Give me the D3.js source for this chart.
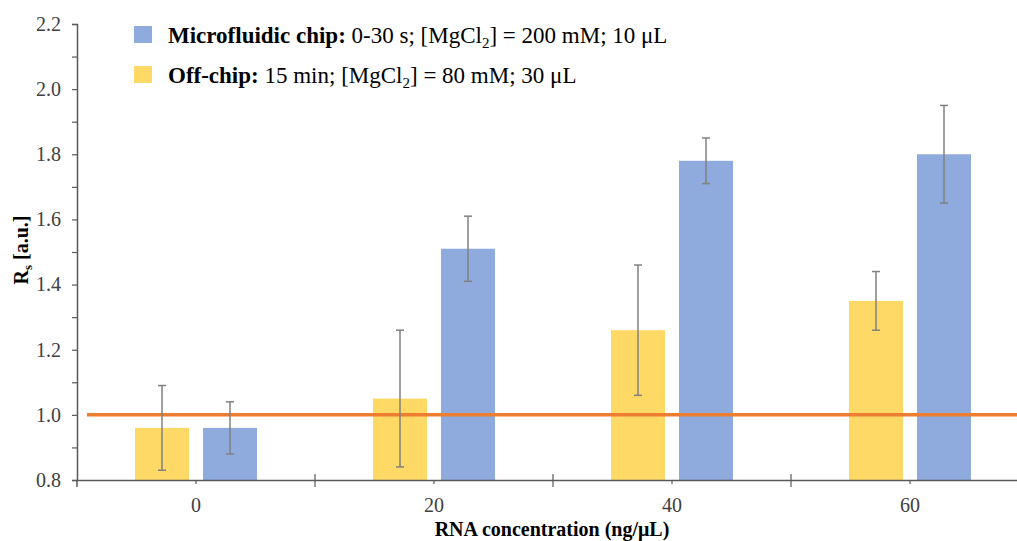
<!DOCTYPE html>
<html>
<head>
<meta charset="utf-8">
<script src="https://cdn.jsdelivr.net/npm/d3@7"></script>
<style>
html,body{margin:0;padding:0;background:#fff;}
svg text{font-family:"Liberation Serif","Times New Roman","DejaVu Serif",serif !important;}
</style>
</head>
<body>
<svg id="chart" width="1017" height="541"></svg>
<script>
const categories = ["0", "20", "40", "60"];
const seriesNames = ["Off-chip", "Microfluidic chip"];
const offChip = [0.96, 1.05, 1.26, 1.35];
const offChipErr = [0.13, 0.21, 0.20, 0.09];
const chip = [0.96, 1.51, 1.78, 1.80];
const chipErr = [0.08, 0.10, 0.07, 0.15];
const yTicks = [0.8, 1.0, 1.2, 1.4, 1.6, 1.8, 2.0, 2.2];
const refValue = 1.0;

const colors = {"Off-chip": "#FFD966", "Microfluidic chip": "#8FAADC"};

(function () {
const FONT = "'Liberation Serif', 'Times New Roman', 'DejaVu Serif', serif";
const svg = d3.select("#chart");
const mLeft = 77, mTop = 24, mBottom = 480, catW = 238;
const mRight = mLeft + catW * categories.length;

const x = d3.scaleBand().domain(categories).range([mLeft, mRight]).paddingInner(0).paddingOuter(0);
const xs = d3.scaleBand().domain(seriesNames).range([0, catW]).paddingInner(0.206).paddingOuter(0.853);
const y = d3.scaleLinear().domain([0.8, 2.2]).range([mBottom, mTop]);

const series = [
  {name: "Off-chip", vals: offChip, err: offChipErr},
  {name: "Microfluidic chip", vals: chip, err: chipErr}
];

// bars
series.forEach(s => {
  svg.append("g").selectAll("rect").data(categories).join("rect")
    .attr("x", (c) => x(c) + xs(s.name))
    .attr("width", xs.bandwidth())
    .attr("y", (c, i) => y(s.vals[i]))
    .attr("height", (c, i) => y(0.8) - y(s.vals[i]))
    .attr("fill", colors[s.name]);
});

// reference line
svg.append("line")
  .attr("x1", 87).attr("x2", 1017)
  .attr("y1", y(refValue)).attr("y2", y(refValue))
  .attr("stroke", "#ED7D31").attr("stroke-width", 3.5);

// error bars
series.forEach(s => {
  const g = svg.append("g").attr("stroke", "#808080").attr("stroke-width", 1.5);
  categories.forEach((c, i) => {
    const cx = x(c) + xs(s.name) + xs.bandwidth() / 2;
    const hi = y(s.vals[i] + s.err[i]), lo = y(s.vals[i] - s.err[i]);
    g.append("line").attr("x1", cx).attr("x2", cx).attr("y1", hi).attr("y2", lo);
    g.append("line").attr("x1", cx - 4).attr("x2", cx + 4).attr("y1", hi).attr("y2", hi);
    g.append("line").attr("x1", cx - 4).attr("x2", cx + 4).attr("y1", lo).attr("y2", lo);
  });
});

// y axis
const axisColor = "#595959";
const yAxis = svg.append("g").attr("transform", `translate(${mLeft},0)`)
  .call(d3.axisLeft(y).tickValues(yTicks).tickFormat(d3.format(".1f")).tickSize(5).tickPadding(11));
const yMinor = svg.append("g").attr("transform", `translate(${mLeft},0)`)
  .call(d3.axisLeft(y).tickValues(d3.range(0.9, 2.2, 0.2)).tickFormat("").tickSize(5));
yMinor.select(".domain").remove();
[yAxis, yMinor].forEach(g => {
  g.attr("font-family", FONT);
  g.select(".domain").attr("stroke", axisColor).attr("stroke-width", 1.5);
  g.selectAll(".tick line").attr("stroke", axisColor).attr("stroke-width", 1.2);
});
yAxis.selectAll(".tick text").attr("font-size", 20).attr("fill", "#404040")
  .attr("text-anchor", "end");

// x axis
const xAxis = svg.append("g").attr("transform", `translate(0,${mBottom})`)
  .call(d3.axisBottom(x).tickSize(4).tickPadding(14));
xAxis.attr("font-family", FONT);
xAxis.select(".domain").attr("stroke", axisColor).attr("stroke-width", 1.5)
  .attr("d", `M${mLeft},0.5H${mRight}`);
xAxis.selectAll(".tick line").attr("stroke", axisColor).attr("stroke-width", 1.2);
xAxis.selectAll(".tick text").attr("font-size", 20).attr("fill", "#404040");
// category boundary ticks
svg.append("g").selectAll("line").data(categories).join("line")
  .attr("x1", (c, i) => mLeft + catW * (i + 1)).attr("x2", (c, i) => mLeft + catW * (i + 1))
  .attr("y1", mBottom - 6).attr("y2", mBottom + 7)
  .attr("stroke", axisColor).attr("stroke-width", 1.2);
svg.append("line").attr("x1", mLeft).attr("x2", mLeft).attr("y1", mBottom).attr("y2", mBottom + 7)
  .attr("stroke", axisColor).attr("stroke-width", 1.5);

// axis titles
svg.append("text").attr("x", 552).attr("y", 536).attr("text-anchor", "middle")
  .attr("font-family", FONT)
  .attr("font-size", 20).attr("font-weight", "bold").attr("fill", "#000")
  .text("RNA concentration (ng/\u03BCL)");
const yt = svg.append("text").attr("transform", "translate(28,250) rotate(-90)")
  .attr("font-family", FONT)
  .attr("text-anchor", "middle").attr("font-size", 20).attr("font-weight", "bold").attr("fill", "#000");
yt.append("tspan").text("R");
yt.append("tspan").attr("font-size", 13).attr("dy", 4).text("s");
yt.append("tspan").attr("dy", -4).text(" [a.u.]");

// legend
const legend = [
  {name: "Microfluidic chip", bold: "Microfluidic chip:", rest: [" 0-30 s; [MgCl", "2", "] = 200 mM; 10 \u03BCL"]},
  {name: "Off-chip", bold: "Off-chip:", rest: [" 15 min; [MgCl", "2", "] = 80 mM; 30 \u03BCL"]}
];
legend.forEach((l, i) => {
  const yy = 26 + i * 40;
  svg.append("rect").attr("x", 134).attr("y", yy).attr("width", 18).attr("height", 17)
    .attr("fill", colors[l.name]);
  const t = svg.append("text").attr("x", 168).attr("y", yy + 17).attr("font-size", 23)
    .attr("font-family", FONT).attr("fill", "#000");
  t.append("tspan").attr("font-weight", "bold").text(l.bold);
  t.append("tspan").text(l.rest[0]);
  t.append("tspan").attr("font-size", 15).attr("dy", 5).text(l.rest[1]);
  t.append("tspan").attr("dy", -5).text(l.rest[2]);
});
})();
</script>
</body>
</html>
